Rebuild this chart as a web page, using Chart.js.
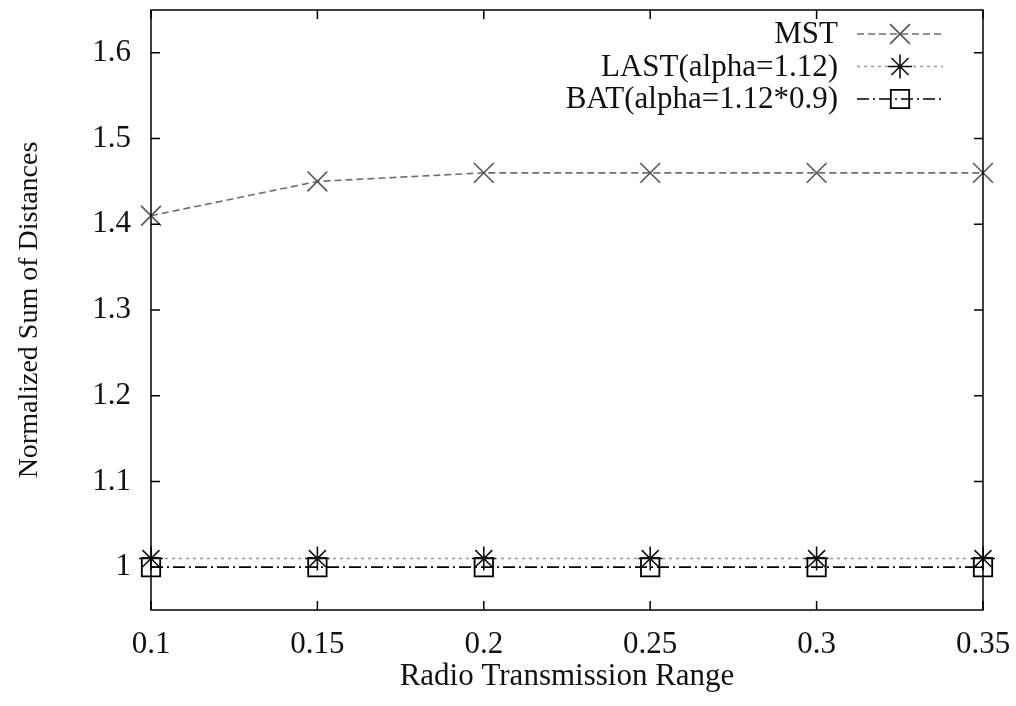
<!DOCTYPE html>
<html>
<head>
<meta charset="utf-8">
<script src="https://cdn.jsdelivr.net/npm/chart.js@4.4.1/dist/chart.umd.min.js"></script>
<style>
  html, body { margin: 0; padding: 0; background: #fff; }
  #wrap { width: 1016px; height: 706px; }
</style>
</head>
<body>
<div id="wrap"><canvas id="chart" width="1016" height="706"></canvas></div>
<script>
// --- Daten ---
const ranges = [0.1, 0.15, 0.2, 0.25, 0.3, 0.35];
const mstValues = [1.41, 1.45, 1.46, 1.46, 1.46, 1.46];
const lastValues = [1.01, 1.01, 1.01, 1.01, 1.01, 1.01];
const batValues = [1.0, 1.0, 1.0, 1.0, 1.0, 1.0];
const xTicks = [0.1, 0.15, 0.2, 0.25, 0.3, 0.35];
const yTicks = [1, 1.1, 1.2, 1.3, 1.4, 1.5, 1.6];
const seriesLabels = ['MST', 'LAST(alpha=1.12)', 'BAT(alpha=1.12*0.9)'];

const FONT = '"Liberation Serif", "Times New Roman", serif';

function toPoints(values) {
    return ranges.map((x, i) => ({ x: x, y: values[i] }));
}

// Rahmen, Ticks nach innen und Legende rechts oben (gnuplot-Stil)
const gnuplotFrame = {
    id: 'gnuplotFrame',
    afterDraw(chart) {
        const ctx = chart.ctx;
        const a = chart.chartArea;
        const xs = chart.scales.x;
        const ys = chart.scales.y;
        const tick = 9;
        ctx.save();
        ctx.strokeStyle = '#000';
        ctx.lineWidth = 1.5;
        ctx.strokeRect(a.left, a.top, a.right - a.left, a.bottom - a.top);
        ctx.beginPath();
        xTicks.forEach(v => {
            const px = xs.getPixelForValue(v);
            ctx.moveTo(px, a.bottom); ctx.lineTo(px, a.bottom - tick);
            ctx.moveTo(px, a.top); ctx.lineTo(px, a.top + tick);
        });
        yTicks.forEach(v => {
            const py = ys.getPixelForValue(v);
            ctx.moveTo(a.left, py); ctx.lineTo(a.left + tick, py);
            ctx.moveTo(a.right, py); ctx.lineTo(a.right - tick, py);
        });
        ctx.stroke();

        // Legende
        const textRight = 838, lineStart = 857, lineEnd = 943, markX = 900;
        const rowY = [34, 66.5, 99];
        ctx.font = '31px ' + FONT;
        ctx.textAlign = 'right';
        ctx.textBaseline = 'middle';
        chart.data.datasets.forEach((ds, i) => {
            const y = rowY[i];
            ctx.fillStyle = '#111';
            ctx.fillText(ds.label, textRight, y + 1);
            ctx.save();
            ctx.strokeStyle = ds.borderColor;
            ctx.lineWidth = ds.borderWidth;
            ctx.setLineDash(ds.borderDash);
            ctx.beginPath();
            ctx.moveTo(lineStart, y); ctx.lineTo(lineEnd, y);
            ctx.stroke();
            ctx.restore();
            ctx.save();
            ctx.strokeStyle = ds.pointBorderColor;
            ctx.fillStyle = 'rgba(0,0,0,0)';
            ctx.lineWidth = ds.pointBorderWidth;
            ctx.setLineDash([]);
            Chart.helpers.drawPoint(ctx, {
                pointStyle: ds.pointStyle,
                radius: ds.pointRadius,
                rotation: 0,
                borderWidth: ds.pointBorderWidth
            }, markX, y);
            ctx.restore();
        });
        ctx.restore();
    }
};

const ctx = document.getElementById('chart').getContext('2d');
new Chart(ctx, {
    type: 'line',
    data: {
        datasets: [
            {
                label: seriesLabels[0],
                data: toPoints(mstValues),
                borderColor: '#6e6e6e',
                borderWidth: 1.6,
                borderDash: [7, 4],
                pointStyle: 'crossRot',
                pointRadius: 14,
                pointBorderColor: '#555',
                pointBorderWidth: 1.6,
                pointBackgroundColor: 'rgba(0,0,0,0)',
                clip: false
            },
            {
                label: seriesLabels[1],
                data: toPoints(lastValues),
                borderColor: '#9a9a9a',
                borderWidth: 1.6,
                borderDash: [3, 4],
                pointStyle: 'star',
                pointRadius: 12,
                pointBorderColor: '#111',
                pointBorderWidth: 1.6,
                pointBackgroundColor: 'rgba(0,0,0,0)',
                clip: false
            },
            {
                label: seriesLabels[2],
                data: toPoints(batValues),
                borderColor: '#000',
                borderWidth: 1.6,
                borderDash: [12, 4, 2, 4],
                pointStyle: 'rect',
                pointRadius: 13,
                pointBorderColor: '#000',
                pointBorderWidth: 1.8,
                pointBackgroundColor: 'rgba(0,0,0,0)',
                clip: false
            }
        ]
    },
    options: {
        responsive: false,
        animation: false,
        layout: { autoPadding: false, padding: { top: 10, right: 33, left: 0, bottom: 0 } },
        plugins: {
            legend: { display: false },
            tooltip: { enabled: false }
        },
        elements: { line: { tension: 0 } },
        scales: {
            x: {
                type: 'linear',
                min: 0.1,
                max: 0.35,
                afterBuildTicks: s => { s.ticks = xTicks.map(v => ({ value: v })); },
                afterFit: s => { s.height = 96; s.paddingLeft = 0; s.paddingRight = 0; },
                grid: { display: false, drawTicks: false },
                border: { display: false },
                ticks: {
                    padding: 16,
                    color: '#111',
                    font: { family: FONT, size: 31 },
                    callback: v => String(v)
                },
                title: {
                    display: true,
                    text: 'Radio Transmission Range',
                    color: '#111',
                    font: { family: FONT, size: 31 },
                    padding: { top: 0, bottom: 11 }
                }
            },
            y: {
                type: 'linear',
                min: 0.95,
                max: 1.65,
                afterBuildTicks: s => { s.ticks = yTicks.map(v => ({ value: v })); },
                afterFit: s => { s.width = 151; s.paddingTop = 0; s.paddingBottom = 0; },
                grid: { display: false, drawTicks: false },
                border: { display: false },
                ticks: {
                    padding: 20,
                    color: '#111',
                    font: { family: FONT, size: 31 },
                    callback: v => String(v)
                },
                title: {
                    display: true,
                    text: 'Normalized Sum of Distances',
                    color: '#111',
                    font: { family: FONT, size: 28 },
                    padding: { top: 13, bottom: 0 }
                }
            }
        }
    },
    plugins: [gnuplotFrame]
});
</script>
</body>
</html>
